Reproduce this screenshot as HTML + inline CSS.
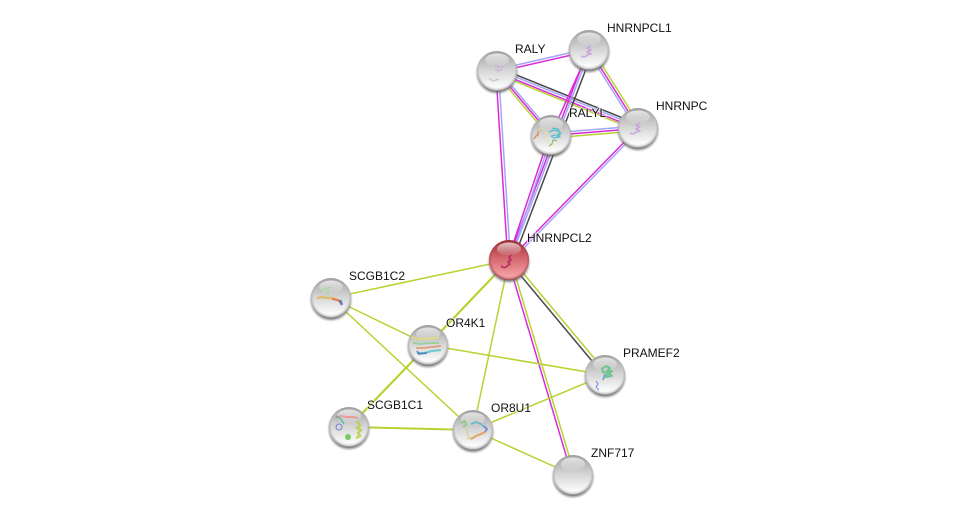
<!DOCTYPE html>
<html><head><meta charset="utf-8"><style>
html,body{margin:0;padding:0;background:#fff;width:976px;height:520px;overflow:hidden}
svg{display:block}
text{font-family:"Liberation Sans",Arial,sans-serif;font-size:12px;fill:#111;stroke:#fff;stroke-width:2px;stroke-opacity:.6;paint-order:stroke}
line{stroke-width:1.5}
.m{stroke:#d82bd8}.b{stroke:#a5a5f8}.l{stroke:#b7d332}.d{stroke:#484848}
.p{fill:none;stroke-width:1.1;stroke-linejoin:round;opacity:.8}
</style></head><body>
<svg width="976" height="520" viewBox="0 0 976 520" xmlns="http://www.w3.org/2000/svg">
<defs>
<linearGradient id="g" x1="0" y1="0" x2="0" y2="1"><stop offset="0" stop-color="#a0a0a0"/><stop offset=".45" stop-color="#d2d2d2"/><stop offset=".85" stop-color="#f8f8f8"/><stop offset="1" stop-color="#ffffff"/></linearGradient>
<radialGradient id="rim" cx=".5" cy=".47" r=".53"><stop offset=".84" stop-color="#777" stop-opacity="0"/><stop offset=".95" stop-color="#777" stop-opacity=".4"/><stop offset="1" stop-color="#555" stop-opacity=".9"/></radialGradient>
<linearGradient id="hi" x1="0" y1="0" x2="0" y2="1"><stop offset="0" stop-color="#fff" stop-opacity=".7"/><stop offset="1" stop-color="#fff" stop-opacity=".05"/></linearGradient>
<linearGradient id="gr" x1="0" y1="0" x2="0" y2="1"><stop offset="0" stop-color="#9a2c34"/><stop offset=".45" stop-color="#d4666e"/><stop offset=".9" stop-color="#f4a0a2"/><stop offset="1" stop-color="#f8b0b0"/></linearGradient>
<radialGradient id="rimr" cx=".5" cy=".47" r=".53"><stop offset=".84" stop-color="#802028" stop-opacity="0"/><stop offset=".95" stop-color="#802028" stop-opacity=".4"/><stop offset="1" stop-color="#701820" stop-opacity=".9"/></radialGradient>
<radialGradient id="sh" cx=".5" cy=".5" r=".5"><stop offset=".84" stop-color="#555" stop-opacity=".75"/><stop offset="1" stop-color="#999" stop-opacity="0"/></radialGradient>
<g id="s"><circle cx="0" cy="2" r="22" fill="url(#sh)"/><circle r="20" fill="url(#g)"/><circle r="20" fill="url(#rim)"/><ellipse cx="0" cy="-11" rx="12" ry="6.5" fill="url(#hi)"/></g>
<g id="sr"><circle cx="0" cy="2" r="22" fill="url(#sh)"/><circle r="20" fill="url(#gr)"/><circle r="20" fill="url(#rimr)"/><ellipse cx="0" cy="-11" rx="12" ry="6.5" fill="url(#hi)"/></g>
</defs>

<line class="b" x1="496.7" y1="69.5" x2="588.7" y2="48.5"/>
<line class="m" x1="497.2" y1="72" x2="589.2" y2="51"/>
<line class="l" x1="495.2" y1="72.6" x2="549.2" y2="136.6"/>
<line class="m" x1="496.8" y1="71.2" x2="550.8" y2="135.2"/>
<line class="b" x1="498.3" y1="69.8" x2="552.3" y2="133.8"/>
<line class="l" x1="496" y1="73.6" x2="637" y2="130.6"/>
<line class="m" x1="496.6" y1="71.9" x2="637.6" y2="128.9"/>
<line class="b" x1="497.5" y1="69.6" x2="638.5" y2="126.6"/>
<line class="d" x1="498.3" y1="67.6" x2="639.3" y2="124.6"/>
<line class="m" x1="495.8" y1="71" x2="507.8" y2="260"/>
<line class="b" x1="498.5" y1="71" x2="510.5" y2="260"/>
<line class="m" x1="589" y1="50" x2="551" y2="135"/>
<line class="m" x1="588.1" y1="49.6" x2="508.1" y2="259.6"/>
<line class="b" x1="589.9" y1="50.4" x2="509.9" y2="260.4"/>
<line class="d" x1="592.7" y1="51.4" x2="512.7" y2="261.4"/>
<line class="m" x1="549.8" y1="134.6" x2="507.8" y2="259.6"/>
<line class="b" x1="552" y1="135.3" x2="510" y2="260.3"/>
<line class="l" x1="591.5" y1="48.4" x2="640.5" y2="126.4"/>
<line class="m" x1="589.4" y1="49.7" x2="638.4" y2="127.7"/>
<line class="b" x1="587.5" y1="50.9" x2="636.5" y2="128.9"/>
<line class="b" x1="551" y1="133" x2="638" y2="126"/>
<line class="m" x1="551" y1="135.5" x2="638" y2="128.5"/>
<line class="l" x1="551" y1="138" x2="638" y2="131"/>
<line class="m" x1="638" y1="128" x2="509" y2="260"/>
<line class="b" x1="639.6" y1="129.6" x2="510.6" y2="261.6"/>
<line class="d" x1="508.2" y1="260.6" x2="604.2" y2="375.6"/>
<line class="l" x1="510.9" y1="258.4" x2="606.9" y2="373.4"/>
<line class="m" x1="508" y1="260.3" x2="572" y2="475.3"/>
<line class="l" x1="510.6" y1="259.5" x2="574.6" y2="474.5"/>
<line class="l" x1="331" y1="298" x2="509" y2="260"/>
<line class="l" x1="428" y1="345" x2="509" y2="260" style="stroke-width:2.2"/>
<line class="l" x1="473" y1="430" x2="509" y2="260"/>
<line class="l" x1="331" y1="298" x2="428" y2="345"/>
<line class="l" x1="331" y1="298" x2="473" y2="430"/>
<line class="l" x1="428" y1="345" x2="605" y2="375"/>
<line class="l" x1="349" y1="427" x2="428" y2="345" style="stroke-width:2.2"/>
<line class="l" x1="349" y1="427" x2="473" y2="430" style="stroke-width:2"/>
<line class="l" x1="473" y1="430" x2="605" y2="375"/>
<line class="l" x1="473" y1="430" x2="573" y2="475"/>

<use href="#s" x="497" y="71"/>
<path class="p" d="M489 78l4 3 6-2 M494 66l3-1 1 3 2-2 3 1-2 3-3 1-3-2" stroke="#c9a5dc"/>
<use href="#s" x="589" y="50"/>
<path class="p" d="M581 56q4 2 6-1 M587 55l4-1-4-2 4-2-4-2 4-2" stroke="#c39ad8" style="stroke-width:1.6"/>
<use href="#s" x="638" y="128"/>
<path class="p" d="M630 133q4 2 6-1 M636 132l4-1-4-2 4-2-4-2 4-2" stroke="#c39ad8" style="stroke-width:1.6"/>
<use href="#s" x="551" y="135"/>
<path class="p" d="M534 139l2-3 2-1 0-3 2-2" stroke="#e0784a" style="stroke-width:1.5"/>
<path class="p" d="M549 132l5-2 4 1 3 2-4 2 3 2-6 1-3-2 5-1 M552 128l6 1 2 6-5 3" stroke="#3cb8cc" style="stroke-width:1.3"/>
<path class="p" d="M549 146l3-2 1-4 4 1" stroke="#6cae3c"/>
<path class="p" d="M538 132l3-4 4 3 1 8 3 5" stroke="#e8dca0"/>
<use href="#sr" x="509" y="260"/>
<path class="p" d="M501 266q4 3 6 0 M507 266l3-2-2-2 3-2-2-2 2-3" stroke="#b02060" style="stroke-width:1.8"/>
<use href="#s" x="331" y="298"/>
<path class="p" d="M317 298l5-1 5 1 5 0 5 2 4 2" stroke="#e0b450" style="stroke-width:2.4"/>
<path class="p" d="M332 299l6 1 4 4" stroke="#e0704a" style="stroke-width:2"/>
<path class="p" d="M340 300l2 5" stroke="#4a6cd0" style="stroke-width:2.6"/>
<path class="p" d="M320 291l4-2 4-1 4-1 M328 287l0 8" stroke="#a8d8a0" style="stroke-width:1.6"/>
<use href="#s" x="428" y="345"/>
<path class="p" d="M412 337l6 2 7 0 7-1 7 0" stroke="#e4dc70" style="stroke-width:2"/>
<path class="p" d="M413 343l8 1 8-1 10 0" stroke="#88d088" style="stroke-width:1.8"/>
<path class="p" d="M416 348l8 0 8-1 9-1" stroke="#e08a50" style="stroke-width:1.6"/>
<path class="p" d="M417 353l7 0 8-2 9-1" stroke="#50c0c8" style="stroke-width:2"/>
<path class="p" d="M417 351l2 3 8-1" stroke="#5070c0" style="stroke-width:1.8"/>
<use href="#s" x="605" y="375"/>
<path class="p" d="M602 369l4-3 4 2-3 3 5 0-3 3 3 2-6 1 2-4-5-1z" stroke="#58c080" style="stroke-width:2"/>
<path class="p" d="M605 374l-2 6" stroke="#3c98c0" style="stroke-width:1.6"/>
<path class="p" d="M596 381l2 3 -2 3 3 3" stroke="#5878d8" style="stroke-width:1.1"/>
<use href="#s" x="349" y="427"/>
<path class="p" d="M335 418l6-2 6 1 6 0 5 1" stroke="#f09088" style="stroke-width:2"/>
<path class="p" d="M336 416l5 3 3 5" stroke="#40b8a8" style="stroke-width:1.5"/>
<circle cx="339" cy="427" r="3" fill="none" stroke="#7088d8"/>
<circle cx="348" cy="437" r="3" fill="#78cc60"/>
<path class="p" d="M357 421l3 4-3 3 4 2-3 3 2 3-4 2" stroke="#b8d040" style="stroke-width:2.6"/>
<use href="#s" x="473" y="430"/>
<path class="p" d="M461 423l4-2 1 4-3 2" stroke="#80cc70" style="stroke-width:1.8"/>
<path class="p" d="M471 424l5-2 5 2 3 3" stroke="#50b8c0" style="stroke-width:1.8"/>
<path class="p" d="M484 426l3 3-2 3" stroke="#5878d0" style="stroke-width:1.8"/>
<path class="p" d="M471 439l5-3 5-2 4-2" stroke="#e09a50" style="stroke-width:2.2"/>
<path class="p" d="M466 428l2 8 3 3 -4 0" stroke="#c8c878"/>
<use href="#s" x="573" y="475"/>

<text x="607" y="32">HNRNPCL1</text>
<text x="515" y="53">RALY</text>
<text x="656" y="110">HNRNPC</text>
<text x="569" y="117">RALYL</text>
<text x="527" y="242">HNRNPCL2</text>
<text x="349" y="280">SCGB1C2</text>
<text x="446" y="327">OR4K1</text>
<text x="623" y="357">PRAMEF2</text>
<text x="367" y="409">SCGB1C1</text>
<text x="491" y="412">OR8U1</text>
<text x="591" y="457">ZNF717</text>
</svg>
</body></html>
